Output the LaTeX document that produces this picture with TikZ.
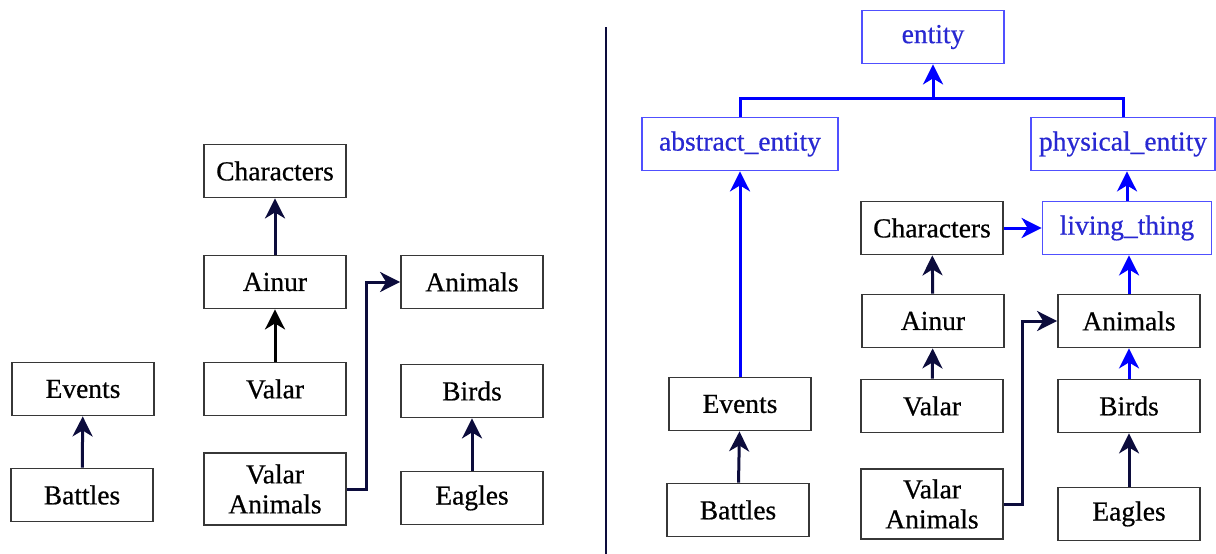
\documentclass[tikz,border=0pt]{standalone}
\usepackage{fontspec}
\setmainfont[FakeBold=0.6]{Liberation Serif}
\usetikzlibrary{arrows.meta}
\definecolor{navy}{RGB}{12,12,60}
\definecolor{boxgray}{RGB}{55,55,55}
\definecolor{wnblue}{RGB}{80,80,255}
\definecolor{wntext}{RGB}{40,40,210}
\definecolor{wnarrow}{RGB}{0,0,255}

\begin{document}
\begin{tikzpicture}[x=1pt,y=-1pt,
    box/.style={draw=boxgray,line width=1.8pt,fill=white,minimum width=142pt,minimum height=53pt,inner sep=6pt,font=\fontsize{27.5}{30}\selectfont},
    wnbox/.style={box,draw=wnblue,text=wntext},
    arr/.style={draw=navy,line width=3pt,-{Stealth[length=20pt,width=20pt,inset=6pt]}},
    barr/.style={arr,draw=wnarrow}]
   \useasboundingbox (0,0) rectangle (1216,554);
   % left: the taxonomy on its own
   \begin{scope}
    \node[box] (lchars) at (275,171) {Characters};
    \node[box] (lainur) at (275,282) {Ainur};
    \node[box] (lvalar) at (275,389) {Valar};
    \node[box,minimum height=72pt,align=center] (lvanimals) at (275,489) {Valar\\Animals};
    \node[box] (lanimals) at (472,282) {Animals};
    \node[box] (lbirds) at (472,391) {Birds};
    \node[box] (leagles) at (472,498) {Eagles};
    \node[box] (levents) at (83,389) {Events};
    \node[box] (lbattles) at (82,495) {Battles};
    \draw[arr] (lainur) -- (lchars);
    \draw[arr,draw=black] (lvalar) -- (lainur);
    \draw[arr] (leagles) -- (lbirds);
    \draw[arr] (lbattles) -- (levents);
    \draw[arr] (lvanimals.east) -- ++(20,0) |- (lanimals.west);
   \end{scope}
   \draw[navy,line width=2.2pt] (606,27) -- (606,554);
   % right: hooked into the upper ontology
   \begin{scope}
    \node[wnbox] (entity) at (933,37) {entity};
    \node[wnbox,minimum width=196pt] (abstract) at (740,144) {abstract\_entity};
    \node[wnbox,minimum width=184pt] (physical) at (1123,144) {physical\_entity};
    \node[wnbox,minimum width=169pt] (living) at (1127,228) {living\_thing};
    \node[box] (rchars) at (932,228) {Characters};
    \node[box] (rainur) at (933,321) {Ainur};
    \node[box] (rvalar) at (932,406) {Valar};
    \node[box,minimum height=70pt,align=center] (rvanimals) at (932,504) {Valar\\Animals};
    \node[box] (ranimals) at (1129,321) {Animals};
    \node[box] (rbirds) at (1129,406) {Birds};
    \node[box] (reagles) at (1129,514) {Eagles};
    \node[box] (revents) at (740,404) {Events};
    \node[box] (rbattles) at (738,510) {Battles};
    \coordinate (bus) at (933,98);
    \draw[barr,-] (abstract.north) |- (bus) -| (physical.north);
    \draw[barr] (bus) -- (entity);
    \draw[barr] (revents.north -| abstract) -- (abstract);
    \draw[barr] (rchars) -- (living);
    \draw[barr] (living.north) -- (living.north |- physical.south);
    \draw[barr] (ranimals.north) -- (ranimals.north |- living.south);
    \draw[barr] (rbirds) -- (ranimals);
    \draw[arr] (rbattles) -- (revents);
    \draw[arr] (rvalar) -- (rainur);
    \draw[arr] (rainur) -- (rchars);
    \draw[arr] (reagles) -- (rbirds);
    \draw[arr] (rvanimals.east) -- ++(19,0) |- (ranimals.west);
   \end{scope}
\end{tikzpicture}
\end{document}
